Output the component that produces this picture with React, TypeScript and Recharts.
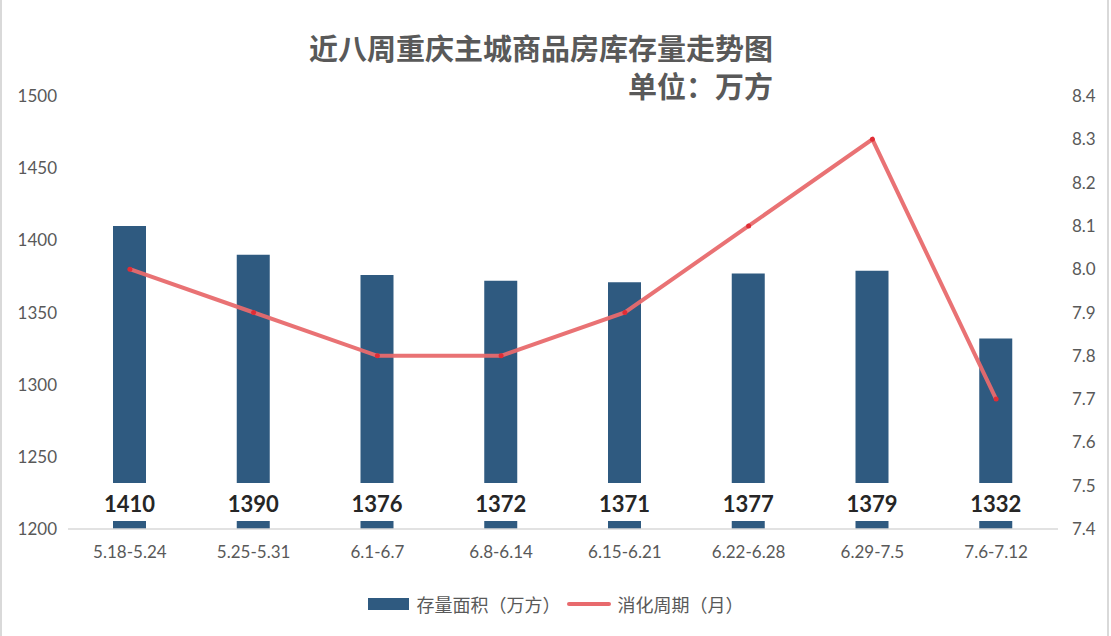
import { ComposedChart, Bar, Line, XAxis, YAxis, Legend, LabelList } from "recharts";

const weeks = ["5.18-5.24", "5.25-5.31", "6.1-6.7", "6.8-6.14", "6.15-6.21", "6.22-6.28", "6.29-7.5", "7.6-7.12"];
const stock = [1410, 1390, 1376, 1372, 1371, 1377, 1379, 1332];
const cycle = [8.0, 7.9, 7.8, 7.8, 7.9, 8.1, 8.3, 7.7];
const leftTicks = [1200, 1250, 1300, 1350, 1400, 1450, 1500];
const rightTicks = [7.4, 7.5, 7.6, 7.7, 7.8, 7.9, 8.0, 8.1, 8.2, 8.3, 8.4];

const stockName = "存量面积（万方）";
const cycleName = "消化周期（月）";

const data = weeks.map((w, i) => ({ week: w, stock: stock[i], cycle: cycle[i] }));

const FONT = "Lato, 'Noto Sans CJK SC', sans-serif";
const BAR = "#2f5a80";
const LINE = "#e86a6d";
const GREY = "#595959";

function BarValue(props: any) {
  const { x, y, width, height, value } = props;
  const cx = x + width / 2;
  const base = y + height;
  return (
    <g>
      <rect x={cx - 30} y={base - 46} width={60} height={38} fill="#fff" />
      <text x={cx} y={base - 26} textAnchor="middle" dominantBaseline="central" fontSize={22} fontWeight={700} fill="#262626" fontFamily={FONT}>
        {value}
      </text>
    </g>
  );
}

function LegendContent() {
  return (
    <div style={{ display: "flex", justifyContent: "center", alignItems: "center", fontFamily: FONT, fontSize: 18, color: GREY }}>
      <span style={{ display: "inline-block", width: 41, height: 12, background: BAR, marginRight: 8 }} />
      <span style={{ marginRight: 6 }}>{stockName}</span>
      <span style={{ display: "inline-block", width: 44, height: 4, borderRadius: 2, background: LINE, marginRight: 7 }} />
      <span>{cycleName}</span>
    </div>
  );
}

export default function App() {
  return (
    <div style={{ position: "absolute", left: 0, top: 0, width: 1111, height: 636, background: "#fff", fontFamily: FONT }}>
      <div style={{ position: "absolute", left: 0, top: 0, bottom: 0, width: 2, background: "#d9d9d9" }} />
      <div style={{ position: "absolute", right: 2, top: 0, bottom: 0, width: 2, background: "#d9d9d9" }} />
      <div style={{ position: "absolute", left: 0, width: 773, top: 30, textAlign: "right", fontSize: 29, fontWeight: 700, color: GREY, lineHeight: "38px" }}>
        <div>近八周重庆主城商品房库存量走势图</div>
        <div>单位：万方</div>
      </div>
      <ComposedChart width={1111} height={636} data={data} margin={{ top: 96, right: 0, bottom: 77, left: 0 }}>
        <XAxis
          dataKey="week"
          tickLine={false}
          axisLine={{ stroke: "#d9d9d9", strokeWidth: 1.5 }}
          tick={{ fontSize: 17, fill: GREY, fontFamily: FONT }}
          tickMargin={11}
          height={30}
          interval={0}
        />
        <YAxis
          yAxisId="left"
          domain={[1200, 1500]}
          ticks={leftTicks}
          width={68}
          tickLine={false}
          axisLine={false}
          tickMargin={5}
          tick={{ fontSize: 17, fill: GREY, fontFamily: FONT }}
        />
        <YAxis
          yAxisId="right"
          orientation="right"
          domain={[7.4, 8.4]}
          ticks={rightTicks}
          tickFormatter={(v: number) => v.toFixed(1)}
          width={53}
          tickLine={false}
          axisLine={false}
          tickMargin={8}
          tick={{ fontSize: 17, fill: GREY, fontFamily: FONT }}
        />
        <Legend
          verticalAlign="middle"
          align="center"
          layout="horizontal"
          wrapperStyle={{ top: 591, left: 0, width: 1111 }}
          content={<LegendContent />}
        />
        <Bar yAxisId="left" dataKey="stock" name={stockName} fill={BAR} barSize={33} isAnimationActive={false}>
          <LabelList dataKey="stock" content={<BarValue />} />
        </Bar>
        <Line
          yAxisId="right"
          dataKey="cycle"
          name={cycleName}
          type="linear"
          stroke={LINE}
          strokeWidth={4}
          strokeOpacity={0.95}
          dot={{ r: 2.5, fill: "#e02c35", stroke: "none" }}
          activeDot={false}
          isAnimationActive={false}
        />
      </ComposedChart>
    </div>
  );
}
